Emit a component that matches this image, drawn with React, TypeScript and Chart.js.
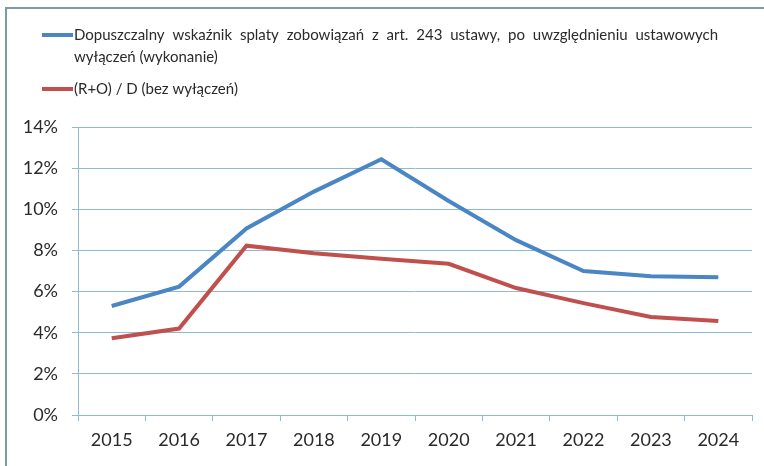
import React, { useEffect, useRef } from "react";
import { Chart, registerables } from "chart.js";

Chart.register(...registerables);

const categories = ["2015", "2016", "2017", "2018", "2019", "2020", "2021", "2022", "2023", "2024"];
const seriesBlueLabel =
  "Dopuszczalny wskaźnik splaty zobowiązań z art. 243 ustawy, po uwzględnieniu ustawowych wyłączeń (wykonanie)";
const seriesRedLabel = "(R+O) / D (bez wyłączeń)";
const seriesBlue = [5.3, 6.24, 9.07, 10.86, 12.43, 10.4, 8.5, 7.0, 6.75, 6.7];
const seriesRed = [3.73, 4.2, 8.23, 7.86, 7.6, 7.35, 6.17, 5.44, 4.76, 4.57];
const yTicks = [0, 2, 4, 6, 8, 10, 12, 14];

const BLUE = "#4a85c4";
const RED = "#c0504d";
const GRID = "#8fbad0";
const FONT = "Lato, 'Open Sans', sans-serif";

const legendPlugin = {
  id: "customLegend",
  afterDraw(chart: any) {
    const ctx = chart.ctx as CanvasRenderingContext2D;
    ctx.save();
    ctx.font = `15px ${FONT}`;
    ctx.fillStyle = "#2a2a2a";
    ctx.textBaseline = "middle";
    const x0 = 74;
    const maxW = 644;
    const items = chart.data.datasets.map((d: any) => ({ label: d.label, color: d.borderColor }));
    const startYs = [35, 89];
    items.forEach((it: any, idx: number) => {
      const words = it.label.split(" ");
      const lines: string[][] = [];
      let cur: string[] = [];
      for (const w of words) {
        const test = [...cur, w].join(" ");
        if (cur.length && ctx.measureText(test).width > maxW) {
          lines.push(cur);
          cur = [w];
        } else cur.push(w);
      }
      if (cur.length) lines.push(cur);
      const y = startYs[idx];
      ctx.strokeStyle = it.color;
      ctx.lineWidth = 4;
      ctx.beginPath();
      ctx.moveTo(42, y);
      ctx.lineTo(73, y);
      ctx.stroke();
      lines.forEach((ws, li) => {
        const ly = y + li * 22;
        if (li < lines.length - 1 && ws.length > 1) {
          const total = ws.reduce((s, w) => s + ctx.measureText(w).width, 0);
          const gap = (maxW - total) / (ws.length - 1);
          let x = x0;
          ws.forEach((w) => {
            ctx.fillText(w, x, ly);
            x += ctx.measureText(w).width + gap;
          });
        } else {
          ctx.fillText(ws.join(" "), x0, ly);
        }
      });
    });
    ctx.restore();
  },
};

export default function App() {
  const ref = useRef<HTMLCanvasElement | null>(null);
  useEffect(() => {
    document.body.style.margin = "0";
    document.body.style.overflow = "hidden";
    const chart = new Chart(ref.current as HTMLCanvasElement, {
      type: "line",
      data: {
        labels: categories,
        datasets: [
          {
            label: seriesBlueLabel,
            data: seriesBlue,
            borderColor: BLUE,
            backgroundColor: BLUE,
            borderWidth: 4,
            pointRadius: 0,
            tension: 0,
          },
          {
            label: seriesRedLabel,
            data: seriesRed,
            borderColor: RED,
            backgroundColor: RED,
            borderWidth: 4,
            pointRadius: 0,
            tension: 0,
          },
        ],
      },
      options: {
        animation: false,
        responsive: false,
        devicePixelRatio: 1,
        layout: { padding: { left: 0, top: 127, right: 12, bottom: 0 } },
        plugins: { legend: { display: false }, tooltip: { enabled: false } },
        scales: {
          x: {
            offset: true,
            grid: {
              offset: true,
              drawOnChartArea: false,
              drawTicks: true,
              tickLength: 6,
              color: GRID,
              lineWidth: 1,
            },
            border: { color: GRID, width: 1 },
            ticks: { color: "#2a2a2a", font: { family: FONT, size: 18 }, padding: 8, maxRotation: 0 },
            afterFit: (s: any) => {
              s.height = 51;
            },
          },
          y: {
            min: 0,
            max: 14,
            afterBuildTicks: (s: any) => {
              s.ticks = yTicks.map((v) => ({ value: v }));
            },
            grid: { color: GRID, lineWidth: 1, tickLength: 6 },
            border: { color: GRID, width: 1 },
            ticks: {
              color: "#2a2a2a",
              font: { family: FONT, size: 18 },
              padding: 14,
              callback: (v: any) => `${v}%`,
            },
            afterFit: (s: any) => {
              s.width = 78;
            },
          },
        },
      },
      plugins: [legendPlugin],
    });
    return () => chart.destroy();
  }, []);
  return (
    <div style={{ position: "relative", width: 764, height: 466, overflow: "hidden", background: "#fff" }}>
      <div
        style={{
          position: "absolute",
          left: 5,
          top: 7,
          width: 800,
          height: 500,
          border: "2px solid #7d9aab",
          boxSizing: "border-box",
        }}
      />
      <canvas ref={ref} width={764} height={466} style={{ position: "absolute", left: 0, top: 0 }} />
    </div>
  );
}
